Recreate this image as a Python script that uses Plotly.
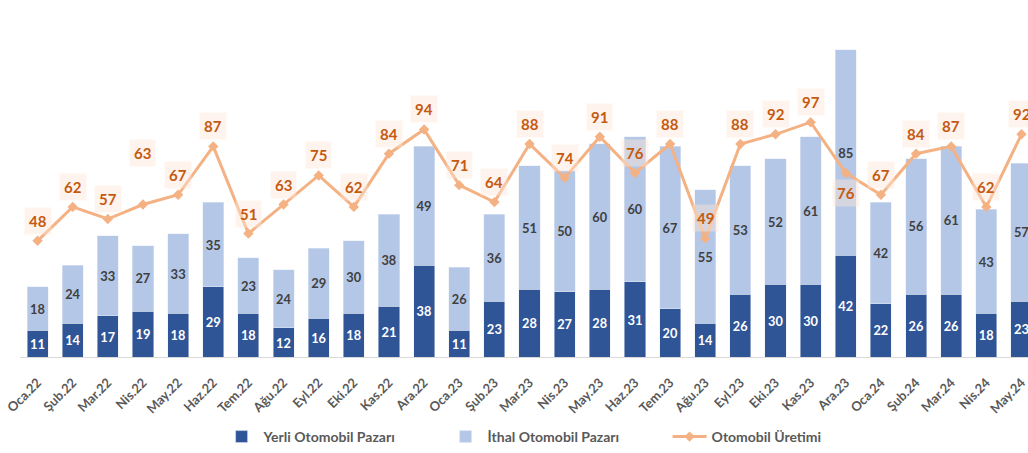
import plotly.graph_objects as go

months = ["Oca.22", "Şub.22", "Mar.22", "Nis.22", "May.22", "Haz.22", "Tem.22", "Ağu.22",
          "Eyl.22", "Eki.22", "Kas.22", "Ara.22", "Oca.23", "Şub.23", "Mar.23", "Nis.23",
          "May.23", "Haz.23", "Tem.23", "Ağu.23", "Eyl.23", "Eki.23", "Kas.23", "Ara.23",
          "Oca.24", "Şub.24", "Mar.24", "Nis.24", "May.24"]
yerli = [11, 14, 17, 19, 18, 29, 18, 12, 16, 18, 21, 38, 11, 23, 28, 27, 28, 31, 20, 14,
         26, 30, 30, 42, 22, 26, 26, 18, 23]
ithal = [18, 24, 33, 27, 33, 35, 23, 24, 29, 30, 38, 49, 26, 36, 51, 50, 60, 60, 67, 55,
         53, 52, 61, 85, 42, 56, 61, 43, 57]
uretim = [48, 62, 57, 63, 67, 87, 51, 63, 75, 62, 84, 94, 71, 64, 88, 74, 91, 76, 88, 49,
          88, 92, 97, 76, 67, 84, 87, 62, 92]

FONT = "Lato"
DARK = "#2F5597"
LIGHT = "#B4C7E7"
ORANGE = "#F4B183"
LABEL_ORANGE = "#C55A11"
GRAY = "#595959"

fig = go.Figure()

fig.add_trace(go.Bar(
    name="Yerli Otomobil Pazarı", x=months, y=yerli, marker_color=DARK,
    text=yerli, texttemplate="<b>%{text}</b>", textposition="inside",
    insidetextanchor="middle", textangle=0,
    textfont=dict(family=FONT, size=15, color="white"),
))
fig.add_trace(go.Bar(
    name="İthal Otomobil Pazarı", x=months, y=ithal, marker_color=LIGHT,
    text=ithal, texttemplate="<b>%{text}</b>", textposition="inside",
    insidetextanchor="middle", textangle=0,
    textfont=dict(family=FONT, size=15, color="#404040"),
))
fig.add_trace(go.Scatter(
    name="Otomobil Üretimi", x=months, y=uretim, mode="lines+markers",
    line=dict(color=ORANGE, width=3),
    marker=dict(symbol="diamond", size=8, color=ORANGE),
))

# value labels for production, placed above each point (a few moved by hand)
shift_override = {"Nis.22": 52, "Ara.23": -20}
for m, v in zip(months, uretim):
    fig.add_annotation(
        x=m, y=v, text=f"<b>{v}</b>", showarrow=False,
        yshift=shift_override.get(m, 20), yanchor="middle",
        font=dict(family=FONT, size=15, color=LABEL_ORANGE),
        bgcolor="rgba(252,230,214,0.45)", borderpad=4,
    )

fig.update_layout(
    width=1028, height=453,
    margin=dict(l=20, r=0, t=6, b=96),
    barmode="stack", bargap=0.4,
    plot_bgcolor="white", paper_bgcolor="white",
    font=dict(family=FONT, color=GRAY),
    showlegend=True,
    legend=dict(
        orientation="h", x=0.198, xanchor="left", y=-0.228, yanchor="middle",
        font=dict(family=FONT, size=14, color=GRAY, weight="bold"),
        itemwidth=34, traceorder="normal", entrywidth=175,
    ),
    xaxis=dict(
        range=[-0.5, 28.185], tickangle=-45, showgrid=False,
        showline=True, linecolor="#D9D9D9", linewidth=1,
        ticks="outside", ticklen=12, tickcolor="rgba(0,0,0,0)",
        tickfont=dict(family=FONT, size=13, color=GRAY, weight="bold"),
    ),
    yaxis=dict(range=[0, 145], visible=False, showgrid=False),
)

fig.write_html("out.html")
